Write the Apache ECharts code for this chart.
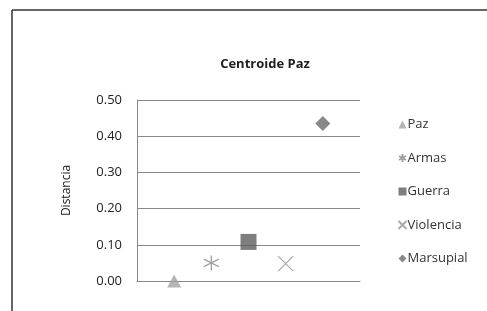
<!DOCTYPE html>
<html>
<head>
<meta charset="utf-8">
<script src="https://cdn.jsdelivr.net/npm/echarts@6/dist/echarts.min.js"></script>
<style>
    html, body { margin: 0; padding: 0; background: #fff; }
    #chart { width: 487px; height: 311px; }
</style>
</head>
<body>
<div id="chart"></div>
<script>
    // one point per series, placed at x = 1..5
    const names = ['Paz', 'Armas', 'Guerra', 'Violencia', 'Marsupial']
    const xPos = [1, 2, 3, 4, 5]
    const values = [0.0, 0.05, 0.108, 0.048, 0.435]
    const yTicks = [0, 0.1, 0.2, 0.3, 0.4, 0.5]

    const asterisk = 'path://M5,0L5,10M0.7,2.5L9.3,7.5M0.7,7.5L9.3,2.5'
    const cross = 'path://M0,0L10,10M10,0L0,10'

    const styles = [
        {symbol: 'triangle', symbolSize: [14, 13], itemStyle: {color: '#a3a3a3'}},
        {symbol: asterisk, symbolSize: 15, itemStyle: {color: 'none', borderColor: '#8a8a8a', borderWidth: 1.3}},
        {symbol: 'rect', symbolSize: 16, itemStyle: {color: '#5e5e5e'}},
        {symbol: cross, symbolSize: 15, itemStyle: {color: 'none', borderColor: '#959595', borderWidth: 1.3}},
        {symbol: 'diamond', symbolSize: 15, itemStyle: {color: '#6a6a6a'}}
    ]

    const chart = echarts.init(document.getElementById('chart'))
    chart.setOption({
        animation: false,
        textStyle: {fontFamily: 'Open Sans'},
        graphic: [
            {type: 'line', shape: {x1: 12, y1: 10, x2: 487, y2: 10}, style: {stroke: '#333', lineWidth: 1.5}},
            {type: 'line', shape: {x1: 12, y1: 10, x2: 12, y2: 311}, style: {stroke: '#333', lineWidth: 1.5}}
        ],
        title: {
            text: 'Centroide Paz',
            left: 260,
            top: 53,
            textAlign: 'center',
            textStyle: {fontSize: 13, fontWeight: 'bold', color: '#222', fontFamily: 'Open Sans'}
        },
        legend: {
            orient: 'vertical',
            left: 391,
            top: 113,
            itemGap: 20.5,
            itemWidth: 8,
            itemHeight: 8,
            textStyle: {fontSize: 13, color: '#333', padding: [0, 0, 0, -4]},
            data: names
        },
        grid: {left: 137, top: 100, right: 127, bottom: 30},
        xAxis: {
            type: 'value',
            min: 0,
            max: 6,
            axisLine: {show: true, onZero: false, lineStyle: {color: '#888'}},
            axisTick: {show: false},
            axisLabel: {show: false},
            splitLine: {show: false}
        },
        yAxis: {
            type: 'value',
            min: yTicks[0],
            max: yTicks[yTicks.length - 1],
            interval: 0.1,
            name: 'Distancia',
            nameLocation: 'middle',
            nameGap: 64,
            nameTextStyle: {fontSize: 12, color: '#222'},
            axisLine: {show: true, lineStyle: {color: '#888'}},
            axisTick: {show: false},
            axisLabel: {fontSize: 13, color: '#222', margin: 15, formatter: v => v.toFixed(2)},
            splitLine: {lineStyle: {color: '#888'}}
        },
        series: names.map((n, i) => Object.assign({
            name: n,
            type: 'scatter',
            data: [[xPos[i], values[i]]]
        }, styles[i]))
    })
</script>
</body>
</html>
